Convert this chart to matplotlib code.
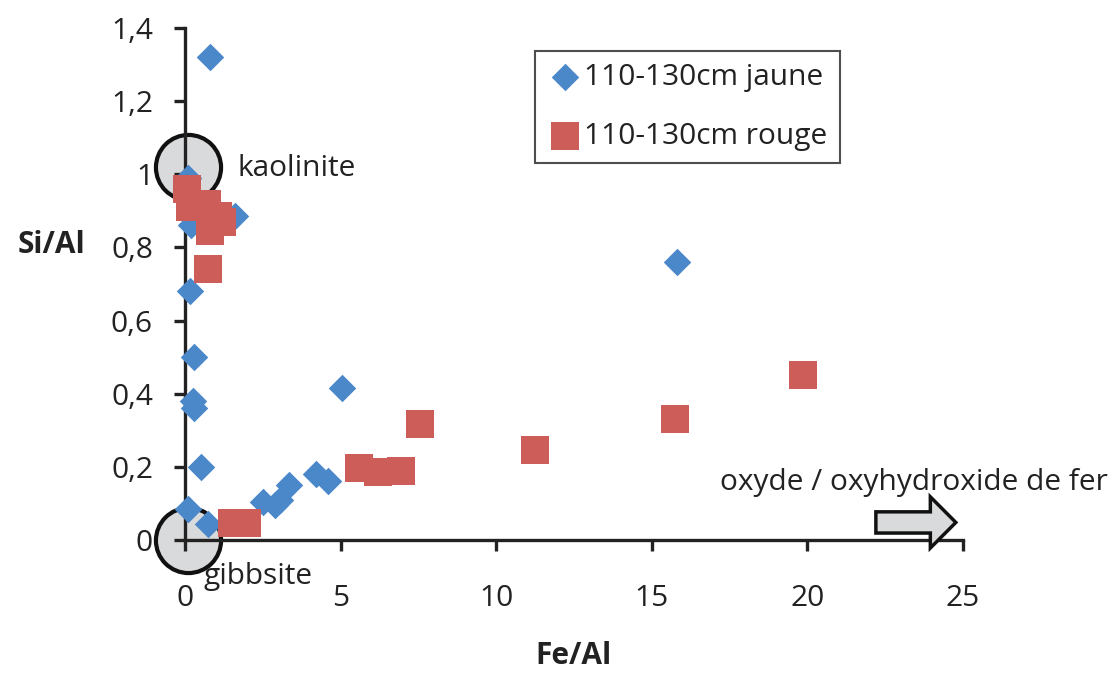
import matplotlib
matplotlib.use("Agg")
import matplotlib.pyplot as plt
from matplotlib.patches import FancyArrow

plt.rcParams['font.family'] = ['Open Sans', 'DejaVu Sans']

# 110-130cm jaune
jaune_fe = [0.8, 0.1, 1.6, 0.2, 0.15, 0.3, 0.25, 0.3, 0.5, 0.1, 0.75,
            2.5, 2.9, 3.05, 3.35, 4.2, 4.6, 5.05, 15.8]
jaune_si = [1.32, 0.99, 0.885, 0.86, 0.68, 0.50, 0.38, 0.36, 0.20, 0.085, 0.045,
            0.105, 0.095, 0.11, 0.15, 0.18, 0.16, 0.415, 0.76]

# 110-130cm rouge
rouge_fe = [0.05, 0.15, 0.7, 1.05, 1.2, 0.8, 0.75, 1.5, 2.0,
            5.6, 6.2, 6.95, 7.55, 11.25, 15.75, 19.85]
rouge_si = [0.96, 0.91, 0.92, 0.885, 0.87, 0.845, 0.74, 0.047, 0.047,
            0.197, 0.186, 0.19, 0.318, 0.247, 0.33, 0.452]

# reference minerals (circled)
ref_names = ['kaolinite', 'gibbsite']
ref_fe = [0.1, 0.1]
ref_si = [1.02, 0.0]

yticks = [0, 0.2, 0.4, 0.6, 0.8, 1.0, 1.2, 1.4]
ytick_labels = ['0', '0,2', '0,4', '0,6', '0,8', '1', '1,2', '1,4']
xticks = [0, 5, 10, 15, 20, 25]

blue = '#4a88ca'
red = '#cd5d59'
txt = '#222222'
fs = 21.5

fig = plt.figure(figsize=(11.11, 6.8), dpi=100)
ax = fig.add_axes([0.1665, 0.2059, 0.7003, 0.7529])

ax.scatter(ref_fe, ref_si, s=2200, facecolor='#d9dadb', edgecolor='#111111',
           linewidth=3, zorder=1, clip_on=False)
ax.scatter(jaune_fe, jaune_si, marker='D', s=14 ** 2, color=blue, linewidth=0,
           zorder=4, clip_on=False, label='110-130cm jaune')
ax.scatter(rouge_fe, rouge_si, marker='s', s=19.5 ** 2, color=red, linewidth=0,
           zorder=5, clip_on=False, label='110-130cm rouge')

ax.set_xlim(0, 25)
ax.set_ylim(0, 1.4)
ax.set_xticks(xticks)
ax.set_yticks(yticks)
ax.set_yticklabels(ytick_labels)

for side in ['top', 'right']:
    ax.spines[side].set_visible(False)
for side in ['left', 'bottom']:
    ax.spines[side].set_linewidth(2.4)
    ax.spines[side].set_color('#222222')
    ax.spines[side].set_zorder(3)
ax.tick_params(axis='both', direction='out', length=8, width=2.4, color='#222222',
               labelsize=fs, labelcolor=txt)
ax.tick_params(axis='x', pad=24)
ax.tick_params(axis='y', pad=15)

ax.set_xlabel('Fe/Al', fontsize=fs, fontweight='bold', color=txt, labelpad=20)
ax.set_ylabel('Si/Al', fontsize=fs, fontweight='bold', color=txt, rotation=0,
              va='center', ha='center')
ax.yaxis.set_label_coords(-0.172, 0.576)

ax.text(1.7, 1.015, ref_names[0], fontsize=fs, color=txt, va='center', ha='left')
ax.text(0.6, -0.1, ref_names[1], fontsize=fs, color=txt, va='center', ha='left')

ax.text(17.2, 0.158, 'oxyde / oxyhydroxide de fer', fontsize=fs, color=txt,
        va='center', ha='left', clip_on=False)
ax.add_patch(FancyArrow(22.2, 0.048, 1.75, 0, width=0.058, head_width=0.14,
                        head_length=0.82, length_includes_head=False,
                        facecolor='#d9dadb', edgecolor='#111111', linewidth=2.5,
                        zorder=6, clip_on=False))

leg = ax.legend(loc='upper left', bbox_to_anchor=(0.45, 0.955), fontsize=fs,
                frameon=True, fancybox=False, borderpad=0.4, labelspacing=1.0,
                handletextpad=0.05, handlelength=1.2, borderaxespad=0)
leg.get_frame().set_edgecolor('#222222')
leg.get_frame().set_linewidth(1.5)
for t in leg.get_texts():
    t.set_color(txt)

fig.savefig('out.png', dpi=100)
